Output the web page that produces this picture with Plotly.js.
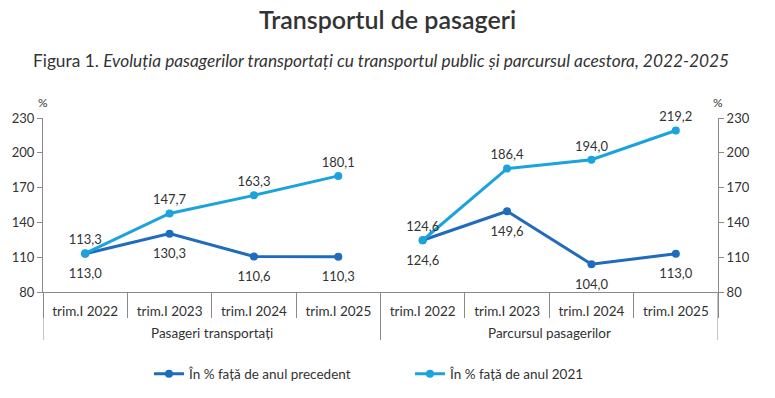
<!DOCTYPE html>
<html>
<head>
<meta charset="utf-8">
<script src="https://cdn.plot.ly/plotly-3.0.1.min.js"></script>
<style>html,body{margin:0;padding:0;background:#fff;}#chart{width:775px;height:398px;}</style>
</head>
<body>
<div id="chart"></div>
<script>
const categories = ['trim.I 2022', 'trim.I 2023', 'trim.I 2024', 'trim.I 2025'];
const groups = ['Pasageri transportați', 'Parcursul pasagerilor'];
const seriesNames = ['În % față de anul precedent', 'În % față de anul 2021'];
const pasageriPrecedent = [113.0, 130.3, 110.6, 110.3];
const pasageri2021 = [113.3, 147.7, 163.3, 180.1];
const parcursPrecedent = [124.6, 149.6, 104.0, 113.0];
const parcurs2021 = [124.6, 186.4, 194.0, 219.2];
const yTicks = [80, 110, 140, 170, 200, 230];

const darkBlue = '#1f6cbc';
const lightBlue = '#1ba3dc';
const axisColor = '#8a8a8a';
const FONT = 'Lato, "Open Sans", sans-serif';
const fmt = v => v.toFixed(1).replace('.', ',');

const nCat = categories.length;
const nAll = nCat * groups.length;
function xFor(g) { return categories.map((_, i) => g * nCat + i); }
const allTickVals = [];
const allTickText = [];
groups.forEach((_, g) => categories.forEach((c, i) => { allTickVals.push(g * nCat + i); allTickText.push(c); }));
const boundaries = [];
for (let i = 0; i <= nAll; i++) boundaries.push(i - 0.5);
const groupBounds = groups.map((_, g) => g * nCat - 0.5).concat([nAll - 0.5]);

function lineTrace(g, vals, idx, yaxis, showlegend) {
  const dark = idx === 0;
  return {
    type: 'scatter', mode: dark ? 'lines+markers' : 'lines+markers+text',
    x: xFor(g), y: vals, yaxis: yaxis,
    name: seriesNames[idx], legendgroup: 's' + idx, showlegend: showlegend,
    line: {color: dark ? darkBlue : lightBlue, width: 3},
    marker: {color: dark ? darkBlue : lightBlue, size: 8},
    text: vals.map(fmt),
    textposition: 'top center',
    textfont: {family: FONT, size: 13, color: '#333'},
    cliponaxis: false, hoverinfo: 'skip'
  };
}

function labelTrace(g, vals, yaxis) {
  return {
    type: 'scatter', mode: 'markers+text',
    x: xFor(g), y: vals, yaxis: yaxis, showlegend: false,
    marker: {size: 22, color: 'rgba(0,0,0,0)'},
    text: vals.map(fmt), textposition: 'bottom center',
    textfont: {family: FONT, size: 13, color: '#333'},
    cliponaxis: false, hoverinfo: 'skip'
  };
}

const data = [
  lineTrace(0, pasageriPrecedent, 0, 'y', true),
  lineTrace(0, pasageri2021, 1, 'y', true),
  lineTrace(1, parcursPrecedent, 0, 'y2', false),
  lineTrace(1, parcurs2021, 1, 'y2', false),
  labelTrace(0, pasageriPrecedent, 'y'),
  labelTrace(1, parcursPrecedent, 'y2')
];

const yCommon = {
  range: [80, 230], tickvals: yTicks, showgrid: false, zeroline: false,
  showline: true, linecolor: axisColor, linewidth: 1,
  ticks: 'outside', ticklen: 5, tickcolor: axisColor,
  tickfont: {family: FONT, size: 13, color: '#333'}, fixedrange: true
};

const plotH = 398 - 118 - 106;
const shapes = groupBounds.map(b => ({
  type: 'line', xref: 'x', yref: 'paper', x0: b, x1: b, y0: 0, y1: -(340 - 292) / plotH,
  line: {color: axisColor, width: 1}
}));

const annotations = [
  {text: 'Figura 1. <i>Evoluția pasagerilor transportați cu transportul public și parcursul acestora, 2022-2025</i>',
   xref: 'paper', yref: 'paper', x: 0.5, y: (292 - 61) / plotH, xanchor: 'center', yanchor: 'middle',
   showarrow: false, font: {family: FONT, size: 17.3, color: '#333'}},
  {text: '%', xref: 'paper', yref: 'paper', x: 0, y: 1, xanchor: 'center', yanchor: 'bottom', yshift: 6,
   showarrow: false, font: {family: FONT, size: 12, color: '#333'}},
  {text: '%', xref: 'paper', yref: 'paper', x: 1, y: 1, xanchor: 'center', yanchor: 'bottom', yshift: 6,
   showarrow: false, font: {family: FONT, size: 12, color: '#333'}}
].concat(groups.map((g, gi) => ({
  text: g, xref: 'x', yref: 'paper', x: gi * nCat + (nCat - 1) / 2, y: -(333 - 292) / plotH,
  xanchor: 'center', yanchor: 'middle', showarrow: false,
  font: {family: FONT, size: 13.5, color: '#333'}
})));

const layout = {
  width: 775, height: 398,
  margin: {l: 43, r: 57, t: 118, b: 106},
  paper_bgcolor: '#fff', plot_bgcolor: '#fff',
  font: {family: FONT, color: '#333'},
  title: {text: 'Transportul de pasageri', x: 0.5, xref: 'container', y: 0.948, yref: 'container',
    yanchor: 'middle', font: {family: FONT, size: 25, color: '#333', weight: 600}},
  xaxis: {
    range: [-0.5, nAll - 0.5], showgrid: false, zeroline: false,
    showline: true, linecolor: axisColor, linewidth: 1,
    tickmode: 'array', tickvals: allTickVals, ticktext: allTickText,
    ticks: '', ticklabelstandoff: 7,
    minor: {tickmode: 'array', tickvals: boundaries, ticks: 'outside', ticklen: 25,
      tickcolor: axisColor, tickwidth: 1, showgrid: false},
    tickfont: {family: FONT, size: 13.5, color: '#333'}, fixedrange: true
  },
  yaxis: Object.assign({}, yCommon, {side: 'left'}),
  yaxis2: Object.assign({}, yCommon, {side: 'right', overlaying: 'y'}),
  showlegend: true,
  legend: {orientation: 'h', x: 0.157, xanchor: 'left', yref: 'container', y: 1 - 374 / 398, yanchor: 'middle',
    entrywidth: 216, entrywidthmode: 'pixels',
    font: {family: FONT, size: 13.5, color: '#333'}, itemwidth: 30},
  shapes: shapes,
  annotations: annotations
};

Plotly.newPlot('chart', data, layout, {displayModeBar: false, staticPlot: true});
</script>
</body>
</html>
